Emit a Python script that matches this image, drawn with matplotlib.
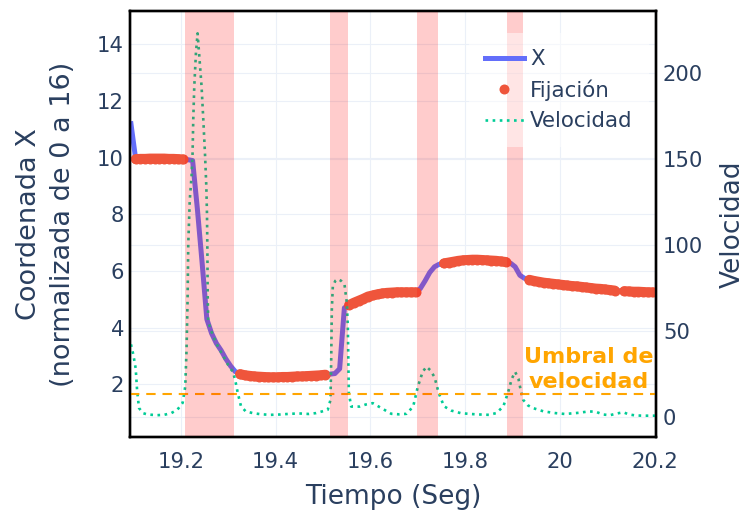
import matplotlib.pyplot as plt
import matplotlib.transforms as mtransforms

# Posición X del ojo (muestras cada 10 ms)
t_x = [19.095, 19.105, 19.115, 19.125, 19.135, 19.145, 19.155, 19.165, 19.175, 19.185,
       19.195, 19.205, 19.215, 19.225, 19.235, 19.245, 19.255, 19.265, 19.275, 19.285,
       19.295, 19.305, 19.315, 19.325, 19.335, 19.345, 19.355, 19.365, 19.375, 19.385,
       19.395, 19.405, 19.415, 19.425, 19.435, 19.445, 19.455, 19.465, 19.475, 19.485,
       19.495, 19.505, 19.515, 19.525, 19.535, 19.545, 19.555, 19.565, 19.575, 19.585,
       19.595, 19.605, 19.615, 19.625, 19.635, 19.645, 19.655, 19.665, 19.675, 19.685,
       19.695, 19.705, 19.715, 19.725, 19.735, 19.745, 19.755, 19.765, 19.775, 19.785,
       19.795, 19.805, 19.815, 19.825, 19.835, 19.845, 19.855, 19.865, 19.875, 19.885,
       19.895, 19.905, 19.915, 19.925, 19.935, 19.945, 19.955, 19.965, 19.975, 19.985,
       19.995, 20.005, 20.015, 20.025, 20.035, 20.045, 20.055, 20.065, 20.075, 20.085,
       20.095, 20.105, 20.115, 20.125, 20.135, 20.145, 20.155, 20.165, 20.175, 20.185,
       20.195]
x_pos = [11.2, 9.95, 9.96, 9.96, 9.97, 9.97, 9.97, 9.97, 9.96, 9.96,
         9.95, 9.94, 9.93, 9.9, 8.2, 6.3, 4.3, 3.8, 3.45, 3.2,
         2.9, 2.65, 2.45, 2.36, 2.32, 2.3, 2.28, 2.27, 2.26, 2.25,
         2.25, 2.25, 2.26, 2.26, 2.27, 2.28, 2.28, 2.29, 2.3, 2.31,
         2.32, 2.34, 2.36, 2.38, 2.55, 4.7, 4.8, 4.88, 4.95, 5.02,
         5.1, 5.14, 5.18, 5.21, 5.23, 5.24, 5.25, 5.25, 5.25, 5.25,
         5.25, 5.38, 5.65, 5.95, 6.15, 6.24, 6.27, 6.3, 6.33, 6.36,
         6.38, 6.39, 6.4, 6.4, 6.39, 6.38, 6.37, 6.36, 6.34, 6.32,
         6.28, 6.15, 5.85, 5.74, 5.69, 5.65, 5.62, 5.59, 5.57, 5.55,
         5.53, 5.51, 5.49, 5.47, 5.46, 5.44, 5.42, 5.4, 5.38, 5.37,
         5.35, 5.33, 5.31, 5.3, 5.29, 5.28, 5.27, 5.27, 5.26, 5.25,
         5.25]

# Intervalos de fijación y de sacada (segundos)
fix_windows = [(19.10, 19.21), (19.32, 19.513), (19.55, 19.698),
               (19.75, 19.888), (19.93, 20.12), (20.13, 20.2)]
sac_windows = [(19.21, 19.312), (19.515, 19.553), (19.698, 19.742), (19.888, 19.921)]

# Velocidad
t_vel = [19.095, 19.100, 19.105, 19.108, 19.112, 19.12, 19.13, 19.15, 19.165, 19.18,
         19.193, 19.204, 19.2095, 19.2122, 19.2144, 19.2158, 19.219, 19.2228, 19.2249, 19.2264,
         19.2285, 19.2321, 19.2355, 19.2385, 19.2439, 19.2475, 19.2511, 19.2539, 19.2553, 19.2562,
         19.2568, 19.258, 19.268, 19.278, 19.29, 19.302, 19.31, 19.315, 19.32, 19.327,
         19.337, 19.352, 19.37, 19.39, 19.41, 19.43, 19.45, 19.47, 19.485, 19.497,
         19.51, 19.5157, 19.5172, 19.5185, 19.5206, 19.526, 19.5311, 19.538, 19.5453, 19.5502,
         19.5523, 19.5544, 19.5594, 19.577, 19.59, 19.605, 19.623, 19.644, 19.66, 19.676,
         19.69, 19.70, 19.71, 19.718, 19.726, 19.735, 19.744, 19.755, 19.77, 19.79,
         19.81, 19.83, 19.85, 19.865, 19.88, 19.89, 19.898, 19.905, 19.912, 19.917,
         19.922, 19.932, 19.943, 19.965, 19.99, 20.01, 20.04, 20.06, 20.075, 20.09,
         20.105, 20.12, 20.133, 20.145, 20.16, 20.18, 20.2]
vel = [42, 36, 28, 15, 5, 2, 1.2, 0.8, 1, 2,
       4, 8, 17.5, 39, 68, 100, 126, 140, 153, 173,
       192, 212, 223, 212, 192, 173, 153, 134, 118, 95,
       70, 55, 47, 41, 35, 29, 26, 21, 14, 6,
       3, 2, 1.3, 1, 1.2, 1.6, 1.8, 1.5, 2, 2.9,
       4, 9.7, 33, 62, 75.7, 79, 80, 79, 76.7, 66,
       52, 13.6, 5.8, 5.8, 7, 7.8, 4.9, 1.6, 1.3, 1.6,
       5.8, 17.5, 26, 29, 27, 23, 13.6, 6, 3.5, 2,
       1.5, 1.2, 1, 2, 5.8, 14, 22, 26, 22, 15,
       9.7, 6.5, 4.9, 3, 2, 1.5, 2.2, 3, 2.8, 1.2,
       0.8, 1.8, 2.5, 1.2, 0.6, 0.5, 0.5]
vel_threshold = 13

x_ticks = [19.2, 19.4, 19.6, 19.8, 20, 20.2]
x_tick_labels = ["19.2", "19.4", "19.6", "19.8", "20", "20.2"]
y_ticks = [2, 4, 6, 8, 10, 12, 14]
vel_ticks = [0, 50, 100, 150, 200]

TXT = "#2a3f5f"
GRID = "#ebf0f8"
RED = "#ef553b"

fig = plt.figure(figsize=(7.48, 5.16), dpi=100)
ax1 = fig.add_axes([130 / 748, 79 / 516, 526 / 748, 426 / 516])
ax2 = ax1.twinx()

# la velocidad se dibuja en ax1 pero con la escala vertical de ax2
vel_tr = mtransforms.blended_transform_factory(ax1.transData, ax2.transData)
hline_tr = mtransforms.blended_transform_factory(ax1.transAxes, ax2.transData)

ax1.grid(True, color=GRID, lw=0.8)
ax1.set_axisbelow(True)
for v in vel_ticks:
    ax1.plot([0, 1], [v, v], transform=hline_tr, color=GRID, lw=0.8, zorder=0.5)

ax1.plot(t_x, x_pos, color="#636efa", lw=3.6, zorder=2, label="X")

# cada fijación como banda continua
for a, b in fix_windows:
    seg = [(t, x) for t, x in zip(t_x, x_pos) if a <= t <= b]
    ax1.plot([p[0] for p in seg], [p[1] for p in seg], color=RED, lw=7.2,
             solid_capstyle="round", solid_joinstyle="round", zorder=3)

in_fix = [any(a <= t <= b for a, b in fix_windows) for t in t_x]
t_fix = [t for t, f in zip(t_x, in_fix) if f]
x_fix = [x for x, f in zip(x_pos, in_fix) if f]
ax1.plot(t_fix, x_fix, "o", ms=7.2, color=RED, mec="none", zorder=3, label="Fijación")

ax1.plot(t_vel, vel, color="#00cc96", lw=1.9, ls=(0, (1.0, 1.7)),
         transform=vel_tr, zorder=4, label="Velocidad")

ax1.plot([0, 1], [vel_threshold, vel_threshold], transform=hline_tr,
         color="#ffa500", lw=1.5, ls=(0, (4.5, 3.3)), zorder=4)
ax1.text(20.06, vel_threshold + 1.2, "Umbral de\nvelocidad", transform=vel_tr,
         ha="center", va="bottom", color="#ffa500", fontsize=16,
         fontweight="bold", linespacing=1.35, zorder=6)

for a, b in sac_windows:
    ax1.axvspan(a, b, color="red", alpha=0.2, lw=0, zorder=5)

ax1.set_xlim(19.093, 20.202)
ax1.set_ylim(0.14, 15.18)
ax2.set_ylim(-11.9, 236)

ax1.set_xticks(x_ticks)
ax1.set_xticklabels(x_tick_labels)
ax1.set_yticks(y_ticks)
ax2.set_yticks(vel_ticks)

ax1.tick_params(axis="x", length=0, pad=10.5, labelsize=15.2, labelcolor=TXT)
ax1.tick_params(axis="y", length=0, pad=4.3, labelsize=15.2, labelcolor=TXT)
ax2.tick_params(axis="y", length=0, pad=5, labelsize=15.2, labelcolor=TXT)

for ax in (ax1, ax2):
    for s in ax.spines.values():
        s.set_color("black")
        s.set_linewidth(1.7)

ax1.set_xlabel("Tiempo (Seg)", fontsize=19, color=TXT, va="center")
ax1.xaxis.set_label_coords(0.5, -0.141)
ax1.set_ylabel("Coordenada X\n(normalizada de 0 a 16)", fontsize=19.5,
               color=TXT, va="center", linespacing=1.4)
ax1.yaxis.set_label_coords(-0.1606, 0.5)
ax2.set_ylabel("Velocidad", fontsize=19, color=TXT, va="center")
ax2.yaxis.set_label_coords(1.1464, 0.5)

leg = ax1.legend(loc="upper left", bbox_to_anchor=(0.6445, 0.948), borderaxespad=0,
                 fontsize=15.4, frameon=True, framealpha=0.5, facecolor="white",
                 edgecolor="none", fancybox=False, handlelength=1.8,
                 handletextpad=0.3, labelspacing=0.48, borderpad=0.75)
for txt in leg.get_texts():
    txt.set_color(TXT)
leg.set_zorder(10)

fig.savefig("out.png", dpi=100)
